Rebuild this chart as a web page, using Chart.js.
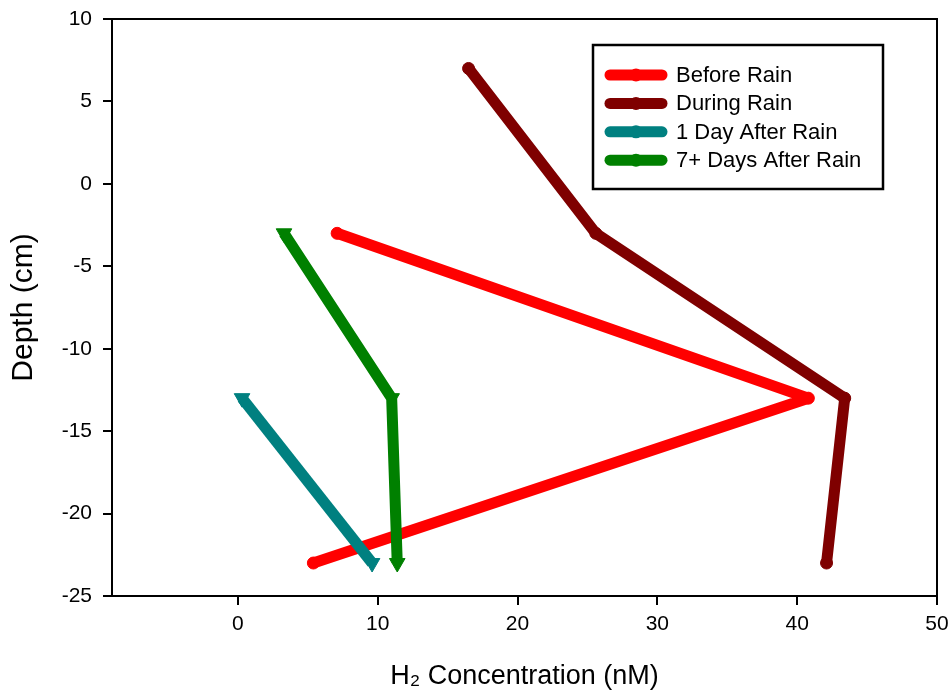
<!DOCTYPE html>
<html>
<head>
<meta charset="utf-8">
<title>H2 Concentration vs Depth</title>
<script src="https://cdn.jsdelivr.net/npm/chart.js@4.4.0/dist/chart.umd.min.js"></script>
<style>
    body { margin: 0; background: #fff; }
    #chart { display: block; }
</style>
</head>
<body>
<canvas id="chart" width="950" height="696"></canvas>
<script>
// series (x = H2 concentration nM, y = depth cm)
const seriesNames = ['Before Rain', 'During Rain', '1 Day After Rain', '7+ Days After Rain'];
const beforeRainX = [7.1, 40.8, 5.4];
const beforeRainY = [-3, -13, -23];
const duringRainX = [16.5, 25.6, 43.4, 42.1];
const duringRainY = [7, -3, -13, -23];
const oneDayX = [0.3, 9.6];
const oneDayY = [-13, -23];
const sevenDayX = [3.3, 11.0, 11.4];
const sevenDayY = [-3, -13, -23];
const xTicks = [0, 10, 20, 30, 40, 50];
const yTicks = [10, 5, 0, -5, -10, -15, -20, -25];

const colors = ['#ff0000', '#7f0000', '#008080', '#008000'];
const markers = ['circle', 'circle', 'triangle', 'triangle'];
const FONT = '"Liberation Sans", Arial, sans-serif';

function pts(xs, ys) {
    return xs.map((x, i) => ({ x: x, y: ys[i] }));
}

const allData = [
    pts(beforeRainX, beforeRainY),
    pts(duringRainX, duringRainY),
    pts(oneDayX, oneDayY),
    pts(sevenDayX, sevenDayY)
];

const datasets = allData.map((d, i) => ({
    label: seriesNames[i],
    data: d,
    showLine: true,
    borderColor: colors[i],
    backgroundColor: colors[i],
    borderWidth: 11,
    borderJoinStyle: 'round',
    pointStyle: markers[i],
    pointRotation: markers[i] === 'triangle' ? 180 : 0,
    pointRadius: markers[i] === 'triangle' ? 9 : 6,
    pointBorderWidth: 1,
    order: 4 - i
}));

// box around plot area
const frame = {
    id: 'frame',
    afterDraw(chart) {
        const { ctx, chartArea: a } = chart;
        ctx.save();
        ctx.strokeStyle = '#000';
        ctx.lineWidth = 2;
        ctx.beginPath();
        ctx.moveTo(a.left, a.top);
        ctx.lineTo(a.right, a.top);
        ctx.lineTo(a.right, a.bottom);
        ctx.stroke();
        ctx.restore();
    }
};

// boxed legend inside the plot
const boxLegend = {
    id: 'boxLegend',
    afterDraw(chart) {
        const ctx = chart.ctx;
        const bx = 593, by = 45, bw = 290, bh = 144;
        ctx.save();
        ctx.fillStyle = '#fff';
        ctx.fillRect(bx, by, bw, bh);
        ctx.strokeStyle = '#000';
        ctx.lineWidth = 2.5;
        ctx.strokeRect(bx, by, bw, bh);
        chart.data.datasets.forEach((ds, i) => {
            const y = 75 + i * 28.4;
            ctx.strokeStyle = ds.borderColor;
            ctx.lineWidth = 11;
            ctx.lineCap = 'round';
            ctx.beginPath();
            ctx.moveTo(610, y);
            ctx.lineTo(662, y);
            ctx.stroke();
            ctx.fillStyle = ds.borderColor;
            ctx.beginPath();
            ctx.arc(636, y, 6.5, 0, Math.PI * 2);
            ctx.fill();
            ctx.fillStyle = '#000';
            ctx.font = '22px ' + FONT;
            ctx.textBaseline = 'middle';
            ctx.textAlign = 'left';
            ctx.fillText(ds.label, 676, y + 1);
        });
        ctx.restore();
    }
};

new Chart(document.getElementById('chart'), {
    type: 'scatter',
    data: { datasets: datasets },
    options: {
        responsive: false,
        animation: false,
        layout: { padding: { top: 19, right: 13, left: 0, bottom: 0 } },
        plugins: {
            legend: { display: false },
            tooltip: { enabled: false }
        },
        scales: {
            x: {
                type: 'linear',
                min: -9,
                max: 50,
                afterBuildTicks: (scale) => { scale.ticks = xTicks.map(v => ({ value: v })); },
                afterFit: (scale) => { scale.height = 100; scale.paddingLeft = 0; scale.paddingRight = 0; },
                grid: { display: true, drawOnChartArea: false, drawTicks: true, tickLength: 9, color: '#000', lineWidth: 2 },
                border: { display: true, color: '#000', width: 2 },
                ticks: { color: '#000', font: { family: FONT, size: 21 }, padding: 7, maxRotation: 0 },
                title: { display: true, text: 'H₂ Concentration (nM)', color: '#000', font: { family: FONT, size: 27 }, padding: { top: 0, bottom: 3 } }
            },
            y: {
                type: 'linear',
                min: -25,
                max: 10,
                afterBuildTicks: (scale) => { scale.ticks = yTicks.map(v => ({ value: v })); },
                afterFit: (scale) => { scale.width = 112; scale.paddingTop = 0; scale.paddingBottom = 0; },
                grid: { display: true, drawOnChartArea: false, drawTicks: true, tickLength: 9, color: '#000', lineWidth: 2 },
                border: { display: true, color: '#000', width: 2 },
                ticks: { color: '#000', font: { family: FONT, size: 21 }, padding: 11 },
                title: { display: true, text: 'Depth (cm)', color: '#000', font: { family: FONT, size: 30 }, padding: { top: 6, bottom: 0 } }
            }
        }
    },
    plugins: [frame, boxLegend]
});
</script>
</body>
</html>
